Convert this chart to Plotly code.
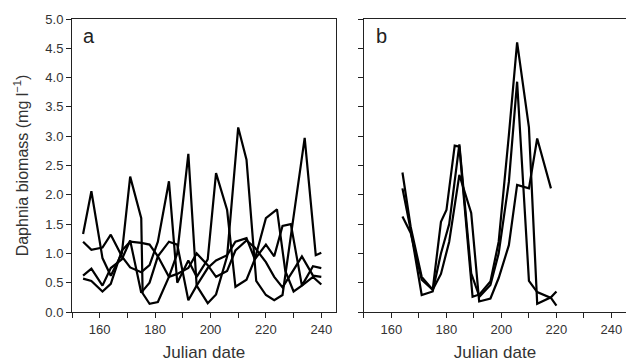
import plotly.graph_objects as go

# ---------------- data: panel a (4 series) ----------------
a1_days = [154, 157, 161, 164, 168, 171, 175, 175.5, 178, 181, 185, 188, 192, 195, 199, 202, 206, 210, 213, 216.5, 220, 223, 226, 230, 234, 238, 240]
a1_vals = [1.33, 2.06, 0.92, 0.62, 1.00, 2.31, 1.60, 0.32, 0.14, 0.17, 0.60, 1.00, 2.70, 0.45, 0.15, 0.30, 0.95, 3.15, 2.60, 0.53, 0.29, 0.20, 0.29, 1.60, 2.97, 0.97, 1.01]

a2_days = [154, 157, 161, 164, 168, 171, 175, 178, 181, 185, 188, 192, 195, 199, 202, 206, 209, 213, 216, 220, 224, 227, 230, 233, 237, 240]
a2_vals = [1.20, 1.06, 1.10, 1.32, 0.95, 0.76, 0.68, 0.80, 1.20, 2.23, 0.50, 0.88, 0.60, 0.90, 2.37, 1.74, 0.43, 0.55, 0.90, 1.60, 1.75, 0.70, 0.35, 0.45, 0.60, 0.47]

a3_days = [154, 157, 161, 164, 168, 171, 175, 178, 181, 185, 188, 192, 195, 199, 202, 206, 209, 213, 216, 220, 223, 226, 229, 233, 237, 240]
a3_vals = [0.62, 0.74, 0.45, 0.75, 0.90, 1.22, 0.33, 0.50, 0.95, 1.20, 1.15, 0.20, 0.45, 0.75, 0.88, 0.97, 1.20, 1.26, 0.90, 1.15, 0.95, 1.47, 1.50, 0.45, 0.78, 0.75]

a4_days = [154, 157, 161, 164, 168, 171, 175, 178, 181, 185, 188, 192, 195, 199, 202, 206, 209, 213, 216, 220, 223, 226, 230, 233, 237, 240]
a4_vals = [0.57, 0.53, 0.35, 0.48, 1.05, 1.20, 1.18, 1.15, 0.95, 0.60, 0.65, 0.75, 1.00, 0.80, 0.60, 0.70, 1.05, 1.22, 1.10, 0.85, 0.60, 0.42, 0.72, 0.95, 0.62, 0.60]

# ---------------- data: panel b (3 series) ----------------
b1_days = [164, 167, 171, 175, 178, 180, 183, 184.7, 189.5, 192, 196, 199, 202.7, 205.7, 210, 213, 218, 220]
b1_vals = [2.38, 1.45, 0.60, 0.38, 1.54, 1.74, 2.84, 2.82, 0.26, 0.30, 0.52, 1.20, 3.02, 4.60, 3.15, 0.14, 0.25, 0.35]

b2_days = [164, 167, 171, 175, 178, 181, 184.7, 189, 192, 196, 199, 202.7, 205.7, 210, 213, 218, 220]
b2_vals = [2.11, 1.40, 0.29, 0.35, 1.00, 1.50, 2.86, 0.66, 0.26, 0.46, 1.00, 2.22, 3.93, 0.53, 0.34, 0.24, 0.11]

b3_days = [164, 167, 171, 175, 178, 181, 184.7, 189, 191.9, 196, 199, 202.7, 205.7, 210, 213, 218]
b3_vals = [1.63, 1.35, 0.55, 0.38, 0.65, 1.20, 2.34, 1.69, 0.18, 0.23, 0.58, 1.14, 2.17, 2.11, 2.96, 2.11]

x_tickvals = [150, 160, 170, 180, 190, 200, 210, 220, 230, 240]
x_ticktext = ["", "160", "", "180", "", "200", "", "220", "", "240"]
y_tickvals = [0.0, 0.5, 1.0, 1.5, 2.0, 2.5, 3.0, 3.5, 4.0, 4.5, 5.0]
y_ticktext = ["0.0", "0.5", "1.0", "1.5", "2.0", "2.5", "3.0", "3.5", "4.0", "4.5", "5.0"]

fig = go.Figure()
line_style = dict(color="black", width=2.2)
for d, v in [(a1_days, a1_vals), (a2_days, a2_vals), (a3_days, a3_vals), (a4_days, a4_vals)]:
    fig.add_trace(go.Scatter(x=d, y=v, mode="lines", line=line_style, xaxis="x", yaxis="y", showlegend=False))
for d, v in [(b1_days, b1_vals), (b2_days, b2_vals), (b3_days, b3_vals)]:
    fig.add_trace(go.Scatter(x=d, y=v, mode="lines", line=line_style, xaxis="x2", yaxis="y2", showlegend=False))

font_family = "Liberation Sans, Arial, sans-serif"
tick_font = dict(family=font_family, size=13, color="#333333")
xtitle_font = dict(family=font_family, size=17, color="#333333")
ytitle_font = dict(family=font_family, size=16, color="#333333")

common_x = dict(range=[150, 245.3], tickmode="array", tickvals=x_tickvals, ticktext=x_ticktext,
                ticks="outside", ticklen=5, tickcolor="#222222", tickwidth=1,
                showline=True, linecolor="#222222", linewidth=1, mirror=True,
                showgrid=False, zeroline=False, tickfont=tick_font,
                title=dict(text="Julian date", font=xtitle_font, standoff=10))
common_y = dict(range=[0, 5], tickmode="array", tickvals=y_tickvals, ticktext=y_ticktext,
                ticks="outside", ticklen=5, tickcolor="#222222", tickwidth=1,
                showline=True, linecolor="#222222", linewidth=1,
                showgrid=False, zeroline=False, tickfont=tick_font)

fig.update_layout(
    width=626, height=362,
    margin=dict(l=72, r=0, t=19, b=50),
    paper_bgcolor="white", plot_bgcolor="white",
    xaxis=dict(domain=[0, 0.4765], anchor="y", **common_x),
    xaxis2=dict(domain=[0.527, 1.0], anchor="y2", **common_x),
    yaxis=dict(domain=[0, 1], anchor="x", mirror=True,
               title=dict(text="Daphnia biomass (mg l<sup>\u22121</sup>)", font=ytitle_font, standoff=12),
               **common_y),
    yaxis2=dict(domain=[0, 1], anchor="x2", mirror=False, showticklabels=False, **common_y),
    annotations=[
        dict(text="a", xref="x domain", yref="y domain", x=0.035, y=0.985, xanchor="left", yanchor="top",
             showarrow=False, font=dict(family=font_family, size=20, color="#222222")),
        dict(text="b", xref="x2 domain", yref="y2 domain", x=0.04, y=0.985, xanchor="left", yanchor="top",
             showarrow=False, font=dict(family=font_family, size=20, color="#222222")),
    ],
)

fig.write_html("out.html", config={"displayModeBar": False},
               post_script="document.body.style.margin='0px';")
